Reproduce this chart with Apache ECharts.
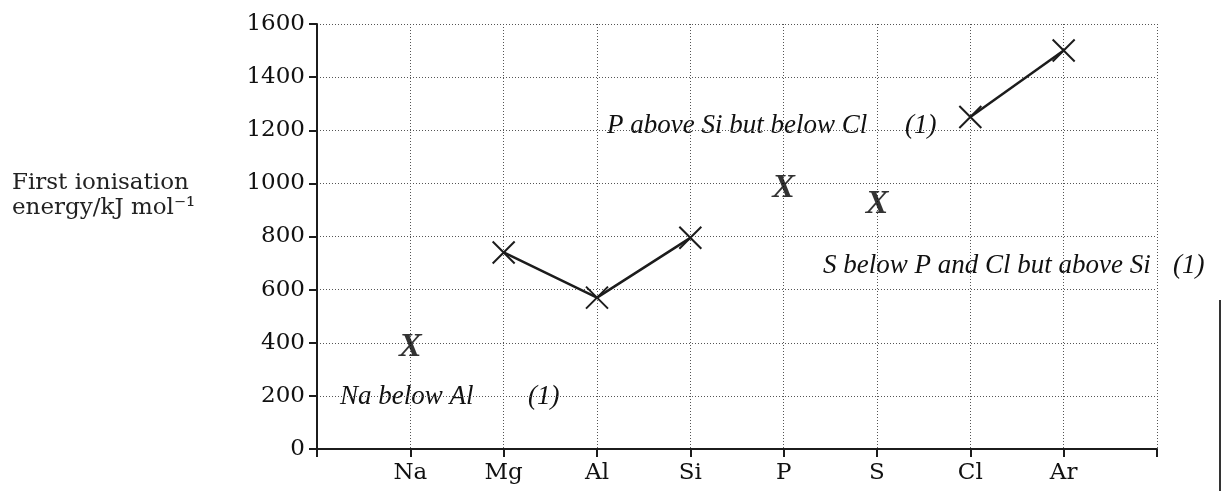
<!DOCTYPE html>
<html>
<head>
<meta charset="utf-8">
<title>First ionisation energy</title>
<script src="https://cdn.jsdelivr.net/npm/echarts@6/dist/echarts.min.js"></script>
<style>
  html, body { margin: 0; padding: 0; background: #fff; }
  #chart { width: 1223px; height: 491px; }
</style>
</head>
<body>
<div id="chart"></div>
<script>
// elements across the period, in order
const elements = ['Na', 'Mg', 'Al', 'Si', 'P', 'S', 'Cl', 'Ar'];
// first ionisation energy (kJ/mol)
const energies = [385, 740, 570, 795, 980, 920, 1250, 1500];
// printed crosses joined by lines
const printedRuns = [['Mg', 'Al', 'Si'], ['Cl', 'Ar']];
// handwritten answer marks
const handMarks = ['Na', 'P', 'S'];
// mark scheme notes
const notes = [
  { text: 'Na below Al', mark: '(1)' },
  { text: 'P above Si but below Cl', mark: '(1)' },
  { text: 'S below P and Cl but above Si', mark: '(1)' }
];

const point = name => {
  const i = elements.indexOf(name);
  return [i + 1, energies[i]];
};

const ink = '#1c1c1c';
const crossPath = 'path://M0,0L20,20M20,0L0,20';
const serif = '"DejaVu Serif", "Liberation Serif", serif';
const script = '"Liberation Serif", serif';

const chart = echarts.init(document.getElementById('chart'));

const series = printedRuns.map(run => ({
  type: 'line',
  data: run.map(point),
  lineStyle: { color: ink, width: 2.5 },
  symbol: crossPath,
  symbolSize: 22,
  itemStyle: { color: ink, borderColor: ink, borderWidth: 2 },
  emphasis: { disabled: true },
  z: 3
}));

series.push({
  type: 'scatter',
  data: handMarks.map(point),
  symbol: 'circle',
  symbolSize: 1,
  itemStyle: { color: 'rgba(0,0,0,0)' },
  emphasis: { disabled: true },
  label: {
    show: true,
    position: 'inside',
    formatter: 'X',
    fontFamily: script,
    fontStyle: 'italic',
    fontWeight: 'bold',
    fontSize: 34,
    color: '#000',
    textBorderWidth: 0
  },
  z: 3
});

const noteStyle = {
  fontFamily: script,
  fontStyle: 'italic',
  fontSize: 27,
  fill: '#111',
  verticalAlign: 'middle'
};
// [text x, mark x, y] for each note
const notePos = [[340, 528, 397], [607, 905, 126], [823, 1173, 266]];
const noteGraphics = [];
notes.forEach((n, i) => {
  const p = notePos[i];
  noteGraphics.push({ type: 'text', x: p[0], y: p[2], style: Object.assign({ text: n.text }, noteStyle) });
  noteGraphics.push({ type: 'text', x: p[1], y: p[2], style: Object.assign({ text: n.mark }, noteStyle) });
});

const gridLine = { show: true, lineStyle: { color: '#555', width: 1, type: [1, 2] } };

const option = {
  animation: false,
  grid: { left: 317, right: 66, top: 24, bottom: 42 },
  xAxis: {
    type: 'value',
    min: 0,
    max: elements.length + 1,
    interval: 1,
    axisLine: { lineStyle: { color: ink, width: 2 } },
    axisTick: { length: 8, lineStyle: { color: ink, width: 2 } },
    axisLabel: {
      margin: 13,
      fontFamily: serif,
      fontSize: 23,
      color: '#111',
      formatter: v => elements[v - 1] || ''
    },
    splitLine: gridLine
  },
  yAxis: {
    type: 'value',
    min: 0,
    max: 1600,
    interval: 200,
    axisLine: { show: true, lineStyle: { color: ink, width: 2 } },
    axisTick: { show: true, length: 8, lineStyle: { color: ink, width: 2 } },
    axisLabel: { margin: 12, fontFamily: serif, fontSize: 23, color: '#111', formatter: v => String(v) },
    splitLine: gridLine
  },
  graphic: [
    {
      type: 'text',
      x: 12,
      y: 171,
      style: {
        text: 'First ionisation\nenergy/kJ mol\u207B\u00B9',
        fontFamily: serif,
        fontSize: 23,
        lineHeight: 25,
        fill: '#222'
      }
    },
    // scan edge on the right of the page
    {
      type: 'line',
      shape: { x1: 1220, y1: 300, x2: 1220, y2: 491 },
      style: { stroke: '#333', lineWidth: 2 }
    }
  ].concat(noteGraphics),
  series: series
};

chart.setOption(option);
</script>
</body>
</html>
